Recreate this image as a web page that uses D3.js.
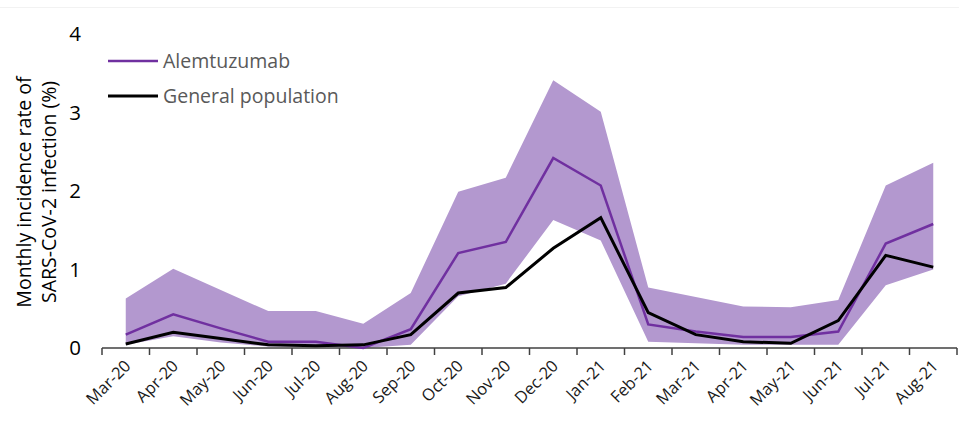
<!DOCTYPE html>
<html>
<head>
<meta charset="utf-8">
<script src="https://cdn.jsdelivr.net/npm/d3@7"></script>
<style>
  html, body { margin: 0; padding: 0; background: #fff; }
  svg { display: block; }
</style>
</head>
<body>
<svg id="chart" width="959" height="421"></svg>
<script>
// Monthly incidence of SARS-CoV-2 infection (%), Mar 2020 – Aug 2021
const months = ["Mar-20","Apr-20","May-20","Jun-20","Jul-20","Aug-20","Sep-20","Oct-20","Nov-20","Dec-20",
                "Jan-21","Feb-21","Mar-21","Apr-21","May-21","Jun-21","Jul-21","Aug-21"];
const alemtuzumab = [0.17,0.43,0.25,0.08,0.08,0.00,0.24,1.21,1.35,2.42,2.07,0.30,0.21,0.14,0.14,0.21,1.33,1.58];
const alemLower   = [0.04,0.15,0.07,0.02,0.02,0.00,0.04,0.66,0.82,1.63,1.37,0.08,0.06,0.04,0.04,0.04,0.80,1.00];
const alemUpper   = [0.63,1.01,0.74,0.47,0.47,0.31,0.70,1.99,2.17,3.41,3.01,0.77,0.65,0.53,0.52,0.61,2.07,2.36];
const generalPop  = [0.05,0.20,0.12,0.04,0.03,0.04,0.17,0.70,0.77,1.27,1.66,0.45,0.17,0.08,0.06,0.35,1.18,1.03];
const yTicks = [0, 1, 2, 3, 4];
const seriesNames = ["Alemtuzumab", "General population"];

const FONT = "'Open Sans', 'Liberation Sans', sans-serif";
const svg = d3.select("#chart");

const margin = { left: 102, right: 2, top: 34, bottom: 73 };
const W = 959, H = 421;

const x = d3.scaleBand().domain(months).range([margin.left, W - margin.right]).padding(0);
const y = d3.scaleLinear().domain([0, 4]).range([H - margin.bottom, margin.top]);
const cx = m => x(m) + x.bandwidth() / 2;

// faint top border
svg.append("line")
  .attr("x1", 0).attr("x2", W).attr("y1", 7.5).attr("y2", 7.5)
  .attr("stroke", "#f2f2f2").attr("stroke-width", 1);

// confidence band
const rows = months.map((m, i) => ({ m, lo: alemLower[i], hi: alemUpper[i], a: alemtuzumab[i], g: generalPop[i] }));
svg.append("path")
  .datum(rows)
  .attr("fill", "#b398cf")
  .attr("d", d3.area().x(d => cx(d.m)).y0(d => y(d.lo)).y1(d => y(d.hi)));

// x axis
const xAxis = svg.append("g")
  .attr("transform", `translate(0,${y(0)})`);
xAxis.append("line")
  .attr("x1", x.range()[0]).attr("x2", x.range()[1])
  .attr("stroke", "#404040").attr("stroke-width", 1.5);
const bounds = months.map(m => x(m)).concat([x.range()[1]]);
xAxis.selectAll("line.tick")
  .data(bounds).join("line")
  .attr("class", "tick")
  .attr("x1", d => d).attr("x2", d => d)
  .attr("y1", 0).attr("y2", 7)
  .attr("stroke", "#404040").attr("stroke-width", 1.5);
xAxis.selectAll("text")
  .data(months).join("text")
  .attr("transform", d => `translate(${cx(d) + 6},${19}) rotate(-45)`)
  .attr("text-anchor", "end")
  .attr("font-family", FONT)
  .attr("font-size", 16.5)
  .attr("fill", "#1a1a1a")
  .text(d => d);

// y tick labels
svg.append("g").selectAll("text")
  .data(yTicks).join("text")
  .attr("x", 81).attr("y", d => y(d))
  .attr("dy", "0.36em")
  .attr("text-anchor", "end")
  .attr("font-family", FONT)
  .attr("font-size", 20.5)
  .attr("fill", "#000")
  .text(d => d);

// y axis title
const yt = svg.append("text")
  .attr("transform", `translate(31,192) rotate(-90)`)
  .attr("text-anchor", "middle")
  .attr("font-family", FONT)
  .attr("font-size", 19.5)
  .attr("fill", "#000");
yt.append("tspan").attr("x", 0).attr("y", 0).text("Monthly incidence rate of");
yt.append("tspan").attr("x", 0).attr("y", 25).text("SARS-CoV-2 infection (%)");

// lines
const line = key => d3.line().x(d => cx(d.m)).y(d => y(d[key]));
svg.append("path").datum(rows)
  .attr("fill", "none").attr("stroke", "#7030a0").attr("stroke-width", 2.5)
  .attr("stroke-linejoin", "miter")
  .attr("d", line("a"));
svg.append("path").datum(rows)
  .attr("fill", "none").attr("stroke", "#000").attr("stroke-width", 3)
  .attr("stroke-linejoin", "miter")
  .attr("d", line("g"));

// legend
const legendColors = ["#7030a0", "#000"];
const lg = svg.append("g").selectAll("g")
  .data(seriesNames).join("g")
  .attr("transform", (d, i) => `translate(108,${61 + i * 35})`);
lg.append("line")
  .attr("x1", 0).attr("x2", 50)
  .attr("stroke", (d, i) => legendColors[i])
  .attr("stroke-width", (d, i) => i === 0 ? 2.5 : 3);
lg.append("text")
  .attr("x", 55).attr("dy", "0.35em")
  .attr("font-family", FONT)
  .attr("font-size", 19.5)
  .attr("fill", "#595959")
  .text(d => d);
</script>
</body>
</html>
